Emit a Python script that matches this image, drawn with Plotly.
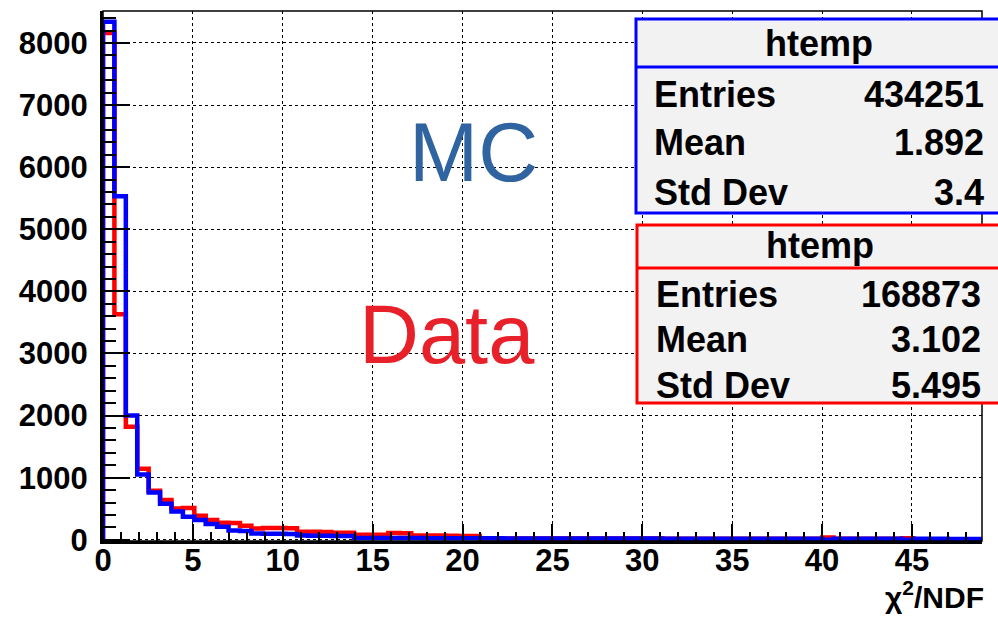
import plotly.graph_objects as go

# ---- data -------------------------------------------------------------
bin_width = 0.635
n_bins = 77
x_max = 48.9
y_max = 8515

mc_counts = [8340, 5530, 2000, 1050, 760, 580, 455, 370, 320, 255,
             210, 150, 140, 100, 97, 95, 92, 68, 65, 64,
             62, 60, 30, 29, 28, 28, 27, 27, 26, 25,
             25, 24, 24, 23, 23, 22, 22, 22, 21, 21,
             21, 20, 20, 20, 20, 19, 19, 19, 19, 18,
             18, 18, 18, 18, 17, 17, 17, 17, 17, 16,
             16, 16, 16, 0, 16, 15, 15, 15, 15, 15,
             0, 15, 15, 15, 14, 14, 14]

data_counts = [8160, 3630, 1820, 1145, 790, 640, 505, 510, 385, 318,
               274, 270, 226, 180, 190, 190, 185, 130, 130, 125,
               113, 113, 80, 80, 80, 110, 105, 70, 70, 68,
               65, 62, 60, 23, 23, 22, 22, 22, 21, 21,
               21, 20, 20, 20, 20, 19, 19, 19, 19, 18,
               18, 18, 18, 18, 17, 17, 17, 17, 17, 16,
               16, 16, 16, 35, 16, 15, 15, 15, 15, 15,
               25, 0, 0, 0, 0, 0, 0]

x_ticks = [0, 5, 10, 15, 20, 25, 30, 35, 40, 45]
y_ticks = [0, 1000, 2000, 3000, 4000, 5000, 6000, 7000, 8000]

mc_stats = [("Entries", "434251"), ("Mean", "1.892"), ("Std Dev", "3.4")]
data_stats = [("Entries", "168873"), ("Mean", "3.102"), ("Std Dev", "5.495")]

# ---- geometry helpers ----------------------------------------------------
L, R, T, B = 103, 16, 11, 76
W, H = 998, 617
PW, PH = W - L - R, H - T - B


def px(xp):
    return (xp - L) / PW


def py(yp):
    return (H - B - yp) / PH


def step_xy(counts):
    edges = [i * bin_width for i in range(len(counts) + 1)]
    xs = [0.0] + edges[:-1] + [edges[-1]]
    ys = [0] + list(counts) + [0]
    return xs, ys


fig = go.Figure()
xd, yd = step_xy(data_counts)
fig.add_trace(go.Scatter(x=xd, y=yd, mode="lines", line_shape="hv",
                         line=dict(color="#ff0000", width=4.5), showlegend=False))
xm, ym = step_xy(mc_counts)
fig.add_trace(go.Scatter(x=xm, y=ym, mode="lines", line_shape="hv",
                         line=dict(color="#0000ff", width=4.5), showlegend=False))

tick_font = dict(family="Liberation Sans", size=31, color="black", weight="bold")

fig.update_xaxes(range=[0, x_max], tickvals=x_ticks, ticks="inside", ticklen=17,
                 tickwidth=2, tickcolor="black", showline=True, linewidth=3,
                 linecolor="black", showgrid=True, gridcolor="black", gridwidth=1,
                 griddash="dot", zeroline=False, tickfont=tick_font,
                 ticklabelstandoff=-10,
                 minor=dict(dtick=1, tick0=0, ticks="inside", ticklen=9,
                            tickwidth=1.5, tickcolor="black", showgrid=False))
fig.update_yaxes(range=[-20, y_max], tickvals=y_ticks, ticks="inside", ticklen=27,
                 tickwidth=2, tickcolor="black", showline=True, linewidth=3,
                 linecolor="black", showgrid=True, gridcolor="black", gridwidth=1,
                 griddash="dot", zeroline=False, tickfont=tick_font,
                 ticklabelstandoff=6,
                 minor=dict(dtick=200, tick0=0, ticks="inside", ticklen=13,
                            tickwidth=1.5, tickcolor="black", showgrid=False))

shapes = []
# top/right frame
shapes.append(dict(type="rect", xref="paper", yref="paper", x0=0, x1=1, y0=0, y1=1,
                   line=dict(color="black", width=1.5), fillcolor="rgba(0,0,0,0)",
                   layer="above"))

annotations = []


def stat_box(x0p, y0p, yhdr, y1p, color, stats, title_y, row_ys, left_x, right_x, title_x):
    shapes.append(dict(type="rect", xref="paper", yref="paper",
                       x0=px(x0p), x1=px(1010), y0=py(y1p), y1=py(y0p),
                       line=dict(color=color, width=3), fillcolor="#f2f2f2", layer="above"))
    shapes.append(dict(type="line", xref="paper", yref="paper",
                       x0=px(x0p), x1=px(1010), y0=py(yhdr), y1=py(yhdr),
                       line=dict(color=color, width=3), layer="above"))
    f = dict(family="Liberation Sans", size=36, color="black", weight="bold")
    annotations.append(dict(xref="paper", yref="paper", x=px(title_x), y=py(title_y),
                            text="htemp", showarrow=False, xanchor="center",
                            yanchor="middle", font=f))
    for (lab, val), yy in zip(stats, row_ys):
        annotations.append(dict(xref="paper", yref="paper", x=px(left_x), y=py(yy),
                                text=lab, showarrow=False, xanchor="left",
                                yanchor="middle", font=f))
        annotations.append(dict(xref="paper", yref="paper", x=px(right_x), y=py(yy),
                                text=val, showarrow=False, xanchor="right",
                                yanchor="middle", font=f))


stat_box(636, 19, 67, 213, "#0000ff", mc_stats, 44, [95, 143, 192], 652, 986, 819)
stat_box(637, 225, 268, 403, "#ff0000", data_stats, 245, [294, 339, 385], 654, 983, 820)

annotations.append(dict(xref="paper", yref="paper", x=px(473), y=py(152), text="MC",
                        showarrow=False, xanchor="center", yanchor="middle",
                        font=dict(family="Liberation Sans", size=83, color="#2f64a0")))
annotations.append(dict(xref="paper", yref="paper", x=px(447), y=py(334), text="Data",
                        showarrow=False, xanchor="center", yanchor="middle",
                        font=dict(family="Liberation Sans", size=83, color="#e8202a")))
annotations.append(dict(xref="paper", yref="paper", x=px(986), y=py(595),
                        text="χ<sup>2</sup>/NDF", showarrow=False, xanchor="right",
                        yanchor="middle",
                        font=dict(family="Liberation Sans", size=30, color="black",
                                  weight="bold")))

fig.update_layout(width=W, height=H, margin=dict(l=L, r=R, t=T, b=B),
                  paper_bgcolor="white", plot_bgcolor="white",
                  shapes=shapes, annotations=annotations, showlegend=False)

fig.write_html("out.html", config={"displayModeBar": False})

# remove the browser's default page margin so the figure sits at (0, 0)
with open("out.html", "r", encoding="utf-8") as fh:
    page = fh.read()
page = page.replace("<head>", "<head><style>html,body{margin:0;padding:0;overflow:hidden;}</style>", 1)
with open("out.html", "w", encoding="utf-8") as fh:
    fh.write(page)
